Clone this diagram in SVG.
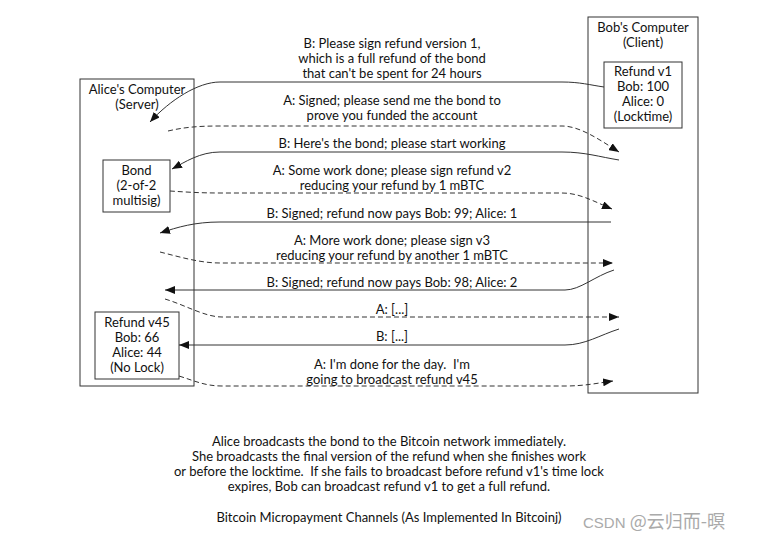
<svg xmlns="http://www.w3.org/2000/svg" width="758" height="542" viewBox="0 0 758 542">
<style>
text{font-family:Lato,"Noto Sans",sans-serif;font-size:13px;fill:#111;text-anchor:middle}
.box{fill:#fff;stroke:#333;stroke-width:1}
.c{fill:none;stroke:#333;stroke-width:1}
.d{stroke-dasharray:5,3}
.wm{font-family:"Liberation Sans","Noto Sans CJK SC",sans-serif;font-size:15px;fill:#aaa;text-anchor:start}
.cjk{font-family:"Noto Sans CJK SC",sans-serif;font-size:18px}
</style>
<defs>
<marker id="ah" viewBox="0 0 10 8" refX="10" refY="4" markerWidth="10" markerHeight="8" markerUnits="userSpaceOnUse" orient="auto">
<path d="M0,0 L10,4 L0,8 z" fill="#111"/>
</marker>
</defs>
<rect width="758" height="542" fill="#fff"/>
<g id="alice">
<rect class="box" x="80" y="79" width="114" height="307"/>
<text x="137" y="94">Alice's Computer</text>
<text x="137" y="109">(Server)</text>
</g>
<g id="bond">
<rect class="box" x="103" y="160" width="67" height="52"/>
<text x="136.5" y="175">Bond</text>
<text x="136.5" y="190">(2-of-2</text>
<text x="136.5" y="205">multisig)</text>
</g>
<g id="refund45">
<rect class="box" x="95" y="312" width="84" height="67"/>
<text x="137" y="327">Refund v45</text>
<text x="137" y="342">Bob: 66</text>
<text x="137" y="357">Alice: 44</text>
<text x="137" y="372">(No Lock)</text>
</g>
<g id="bob">
<rect class="box" x="588" y="17" width="110" height="376"/>
<text x="643" y="32">Bob's Computer</text>
<text x="643" y="47">(Client)</text>
</g>
<g id="refund1">
<rect class="box" x="604" y="62" width="78" height="66"/>
<text x="643" y="76">Refund v1</text>
<text x="643" y="91">Bob: 100</text>
<text x="643" y="106">Alice: 0</text>
<text x="643" y="121">(Locktime)</text>
</g>
<g id="connectors">
<path class="c" marker-end="url(#ah)" d="M604,87 C590,85 580,82 562,82 L220,82 C198,82 170,100 150,122"/>
<path class="c d" marker-end="url(#ah)" d="M168,131 C185,127 200,126 220,126 L562,126 C580,126 600,140 619,152"/>
<path class="c" marker-end="url(#ah)" d="M619,160 C600,157 585,152 562,152 L220,152 C200,152 185,162 172,169"/>
<path class="c d" marker-end="url(#ah)" d="M170,191 C185,192 200,193 220,193 L562,193 C580,193 595,202 612,209"/>
<path class="c" marker-end="url(#ah)" d="M611,222 L220,222 C195,222 178,227 160,233"/>
<path class="c d" marker-end="url(#ah)" d="M160,252 C180,257 200,263 220,263 L613,263"/>
<path class="c" marker-end="url(#ah)" d="M614,270 C595,276 580,290 565,290 L165,290"/>
<path class="c d" marker-end="url(#ah)" d="M165,299 C185,305 205,317 222,317 L619,317"/>
<path class="c" marker-end="url(#ah)" d="M619,329 C600,335 585,345 565,345 L179,345"/>
<path class="c d" marker-end="url(#ah)" d="M179,376 C195,381 205,386 222,386 L565,386 C585,386 598,383 613,381"/>
</g>
<g id="labels">
<text x="392" y="48">B: Please sign refund version 1,</text>
<text x="392" y="63">which is a full refund of the bond</text>
<text x="392" y="78">that can't be spent for 24 hours</text>
<text x="392" y="105">A: Signed; please send me the bond to</text>
<text x="392" y="120">prove you funded the account</text>
<text x="392" y="148">B: Here's the bond; please start working</text>
<text x="392" y="175">A: Some work done; please sign refund v2</text>
<text x="392" y="190">reducing your refund by 1 mBTC</text>
<text x="392" y="218">B: Signed; refund now pays Bob: 99; Alice: 1</text>
<text x="392" y="245">A: More work done; please sign v3</text>
<text x="392" y="260">reducing your refund by another 1 mBTC</text>
<text x="392" y="287">B: Signed; refund now pays Bob: 98; Alice: 2</text>
<text x="392" y="314">A: [...]</text>
<text x="392" y="341">B: [...]</text>
<text x="392" y="369" xml:space="preserve">A: I'm done for the day.  I'm</text>
<text x="392" y="384">going to broadcast refund v45</text>
</g>
<g id="caption">
<text x="389" y="446">Alice broadcasts the bond to the Bitcoin network immediately.</text>
<text x="389" y="461">She broadcasts the final version of the refund when she finishes work</text>
<text x="389" y="476" xml:space="preserve">or before the locktime.  If she fails to broadcast before refund v1's time lock</text>
<text x="389" y="491">expires, Bob can broadcast refund v1 to get a full refund.</text>
<text x="389" y="522">Bitcoin Micropayment Channels (As Implemented In Bitcoinj)</text>
</g>
<text class="wm" x="583" y="528" xml:space="preserve">CSDN <tspan class="cjk" font-size="18">@云归而-暝</tspan></text>
</svg>
